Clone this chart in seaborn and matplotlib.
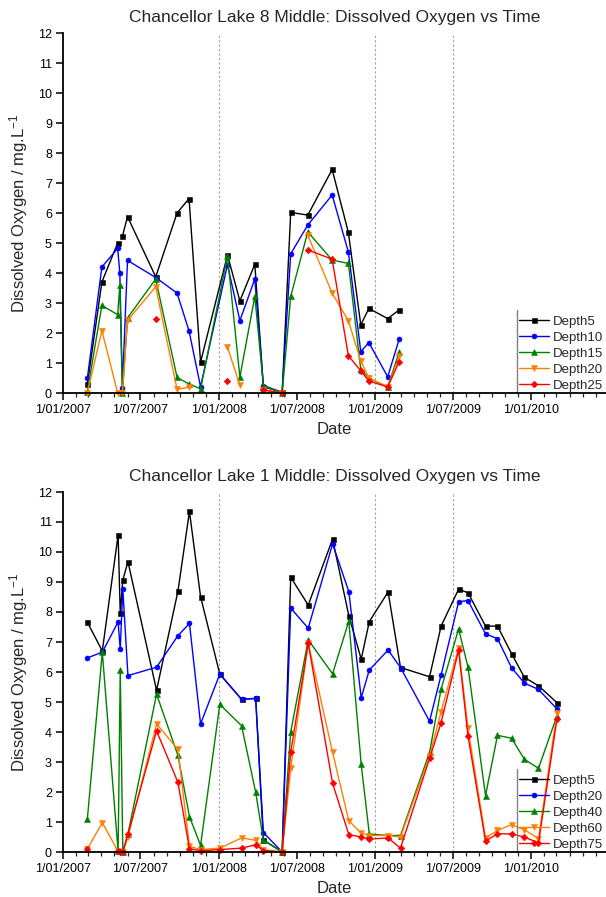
import numpy as np
import pandas as pd
import matplotlib
matplotlib.use("Agg")
import matplotlib.pyplot as plt
import matplotlib.dates as mdates
from matplotlib.lines import Line2D
from matplotlib.ticker import FuncFormatter, MultipleLocator
import seaborn as sns

nan = np.nan

# ---------------- Chancellor Lake 8 Middle ----------------
top_dates = ["2007-02-27", "2007-04-02", "2007-05-09", "2007-05-14", "2007-05-20",
             "2007-06-01", "2007-08-06", "2007-09-25", "2007-10-23", "2007-11-19",
             "2008-01-21", "2008-02-19", "2008-03-25", "2008-04-14", "2008-05-28",
             "2008-06-17", "2008-07-27", "2008-09-22", "2008-10-30", "2008-11-28",
             "2008-12-17", "2009-01-30", "2009-02-26"]
top_depth5 = [0.29, 3.70, 5.00, nan, 5.22, 5.88, 3.87, 6.00, 6.48, 1.03,
              4.60, 3.07, 4.29, 0.21, 0.02, 6.02, 5.93, 7.45, 5.35, 2.27,
              2.82, 2.48, 2.77]
top_depth10 = [0.49, 4.20, 4.82, 4.00, 0.18, 4.42, 3.85, 3.33, 2.07, 0.21,
               4.28, 2.41, 3.80, 0.25, 0.02, 4.64, 5.60, 6.60, 4.70, 1.38,
               1.68, 0.54, 1.80]
top_depth15 = [0.05, 2.92, 2.61, 3.60, 0.00, 2.50, 3.80, 0.52, 0.30, 0.14,
               4.56, 0.53, 3.22, 0.25, 0.00, 3.22, 5.37, 4.43, 4.32, 0.78,
               0.50, 0.20, 1.37]
top_depth20 = [0.00, 2.08, 0.00, nan, 0.00, 2.42, 3.54, 0.12, 0.19, nan,
               1.53, 0.26, nan, 0.10, 0.00, nan, 5.26, 3.33, 2.41, 1.07,
               0.50, 0.20, 1.22]
top_depth25 = [nan, nan, nan, nan, nan, nan, 2.48, nan, nan, nan,
               0.40, nan, nan, 0.10, 0.00, nan, 4.77, 4.46, 1.24, 0.74,
               0.40, 0.20, 1.05]
top_labels = ["Depth5", "Depth10", "Depth15", "Depth20", "Depth25"]

# ---------------- Chancellor Lake 1 Middle ----------------
bot_dates = ["2007-02-27", "2007-04-03", "2007-05-10", "2007-05-15", "2007-05-21",
             "2007-06-02", "2007-08-08", "2007-09-27", "2007-10-24", "2007-11-19",
             "2008-01-03", "2008-02-23", "2008-03-27", "2008-04-14", "2008-05-28",
             "2008-06-17", "2008-07-28", "2008-09-23", "2008-10-31", "2008-11-29",
             "2008-12-18", "2009-01-31", "2009-03-01", "2009-05-08", "2009-06-04",
             "2009-07-15", "2009-08-06", "2009-09-16", "2009-10-14", "2009-11-16",
             "2009-12-16", "2010-01-18", "2010-03-02"]
bot_depth5 = [7.66, 6.70, 10.57, 7.96, 9.06, 9.68, 5.39, 8.69, 11.35, 8.51,
              5.93, 5.09, 5.12, 0.40, 0.00, 9.16, 8.23, 10.43, 7.88, 6.43,
              7.68, 8.67, 6.15, 5.84, 7.53, 8.76, 8.64, 7.53, 7.53, 6.61,
              5.82, 5.54, 4.98]
bot_depth20 = [6.47, 6.66, 7.67, 6.76, 8.77, 5.88, 6.16, 7.21, 7.62, 4.27,
               5.93, 5.09, 5.12, 0.65, 0.00, 8.13, 7.46, 10.27, 8.68, 5.14,
               6.07, 6.73, 6.15, 4.36, 5.90, 8.34, 8.38, 7.27, 7.11, 6.14,
               5.63, 5.42, 4.77]
bot_depth40 = [1.10, 6.66, 0.02, 6.06, 0.00, 0.60, 5.26, 3.22, 1.18, 0.22,
               4.92, 4.21, 1.99, 0.40, 0.00, 4.00, 7.07, 5.94, 7.70, 2.92,
               0.60, 0.55, 0.55, 3.32, 5.43, 7.44, 6.16, 1.88, 3.89, 3.79,
               3.09, 2.79, 4.53]
bot_depth60 = [0.10, 0.98, 0.02, 0.00, 0.00, 0.50, 4.27, 3.42, 0.19, 0.08,
               0.13, 0.47, 0.39, 0.08, 0.00, 2.79, 6.96, 3.32, 1.04, 0.63,
               0.55, 0.55, 0.50, 3.20, 4.68, 6.81, 4.12, 0.47, 0.72, 0.91,
               0.74, 0.45, 4.62]
bot_depth75 = [0.10, nan, 0.02, 0.00, 0.00, 0.60, 4.04, 2.32, 0.11, 0.04,
               0.08, 0.13, 0.24, 0.05, 0.00, 3.32, 6.96, 2.29, 0.58, 0.50,
               0.43, 0.47, 0.13, 3.12, 4.31, 6.73, 3.87, 0.36, 0.61, 0.60,
               0.50, 0.30, 4.42]
bot_labels = ["Depth5", "Depth20", "Depth40", "Depth60", "Depth75"]

colors = ["#000000", "#0000ff", "#008000", "#ff8000", "#ff0000"]
markers = ["s", "o", "^", "v", "D"]
msizes = [3.6, 3.6, 4.2, 4.2, 3.4]
ref_lines = ["2008-01-01", "2009-01-01", "2009-07-01"]


def long_frame(dates, series, labels):
    rows = []
    for lab, vals in zip(labels, series):
        seg = 0
        for d, v in zip(dates, vals):
            if v is None or (isinstance(v, float) and np.isnan(v)):
                seg += 1
                continue
            rows.append({"Date": pd.Timestamp(d), "DO": v, "Series": lab,
                         "seg": f"{lab}_{seg}"})
    return pd.DataFrame(rows)


sns.set_theme(style="ticks")
plt.rcParams['font.family'] = ['Liberation Sans', 'DejaVu Sans']
plt.rcParams['mathtext.fontset'] = 'custom'
plt.rcParams['mathtext.rm'] = 'Liberation Sans'
plt.rcParams['mathtext.it'] = 'Liberation Sans:italic'
plt.rcParams['mathtext.default'] = 'regular'

fig = plt.figure(figsize=(6.06, 8.97), dpi=100)
W, H = 606.0, 897.0
left = 63 / W
width = 543 / W
ax_top = fig.add_axes([left, (H - 393) / H, width, 360 / H])
ax_bot = fig.add_axes([left, (H - 852) / H, width, 360 / H])


def date_fmt(x, pos):
    d = mdates.num2date(x)
    return f"{d.day}/{d.month:02d}/{d.year}"


def draw(ax, dates, series, labels, title):
    df = long_frame(dates, series, labels)
    pal = dict(zip(labels, colors))
    mk = dict(zip(labels, markers))
    for lab, ms in zip(labels, msizes):
        sub = df[df["Series"] == lab]
        sns.lineplot(data=sub, x="Date", y="DO", units="seg", estimator=None,
                     color=pal[lab], marker=mk[lab], markersize=ms,
                     markeredgewidth=0.4, markeredgecolor=pal[lab],
                     linewidth=1.0, ax=ax, legend=False, clip_on=False,
                     sort=True)
    for d in ref_lines:
        ax.axvline(pd.Timestamp(d), color="#a0a0a0", lw=0.8, ls=(0, (2, 2)),
                   zorder=0)
    ax.set_xlim(pd.Timestamp("2007-01-01"), pd.Timestamp("2010-06-25"))
    ax.set_ylim(0, 12)
    ax.yaxis.set_major_locator(MultipleLocator(1))
    ax.xaxis.set_major_locator(mdates.MonthLocator(bymonth=(1, 7)))
    ax.xaxis.set_minor_locator(mdates.MonthLocator())
    ax.xaxis.set_major_formatter(FuncFormatter(date_fmt))
    for s in ["top", "right"]:
        ax.spines[s].set_visible(False)
    for s in ["left", "bottom"]:
        ax.spines[s].set_linewidth(1.3)
        ax.spines[s].set_color("black")
    ax.tick_params(axis="both", which="major", direction="out", length=5,
                   width=1.1, labelsize=9, colors="black", pad=3,
                   bottom=True, left=True)
    ax.tick_params(axis="x", which="minor", direction="out", length=3,
                   width=0.9, bottom=True)
    ax.set_xlabel("Date", fontsize=12, labelpad=4)
    ax.set_ylabel("Dissolved Oxygen / mg.L$^{-1}$", fontsize=12, labelpad=6)
    ax.set_title(title, fontsize=12.5, pad=8)
    ax.set_facecolor("white")
    handles = [Line2D([], [], color=c, marker=m, markersize=ms, lw=1.0,
                      markeredgecolor=c, markeredgewidth=0.4)
               for c, m, ms in zip(colors, markers, msizes)]
    x0 = (519 - 63) / 543
    ax.legend(handles, labels, loc="lower left", bbox_to_anchor=(x0, 0.004),
              frameon=False, fontsize=9.5, handlelength=2.3,
              handletextpad=0.3, labelspacing=0.28, borderpad=0.0,
              borderaxespad=0.0, numpoints=1)
    xl = (517 - 63) / 543
    ax.add_line(Line2D([xl, xl], [0, 0.23], transform=ax.transAxes,
                       color="#808080", lw=1.0, clip_on=False))


draw(ax_top, top_dates,
     [top_depth5, top_depth10, top_depth15, top_depth20, top_depth25],
     top_labels, "Chancellor Lake 8 Middle: Dissolved Oxygen vs Time")
draw(ax_bot, bot_dates,
     [bot_depth5, bot_depth20, bot_depth40, bot_depth60, bot_depth75],
     bot_labels, "Chancellor Lake 1 Middle: Dissolved Oxygen vs Time")

fig.savefig("out.png", dpi=100, facecolor="white")
